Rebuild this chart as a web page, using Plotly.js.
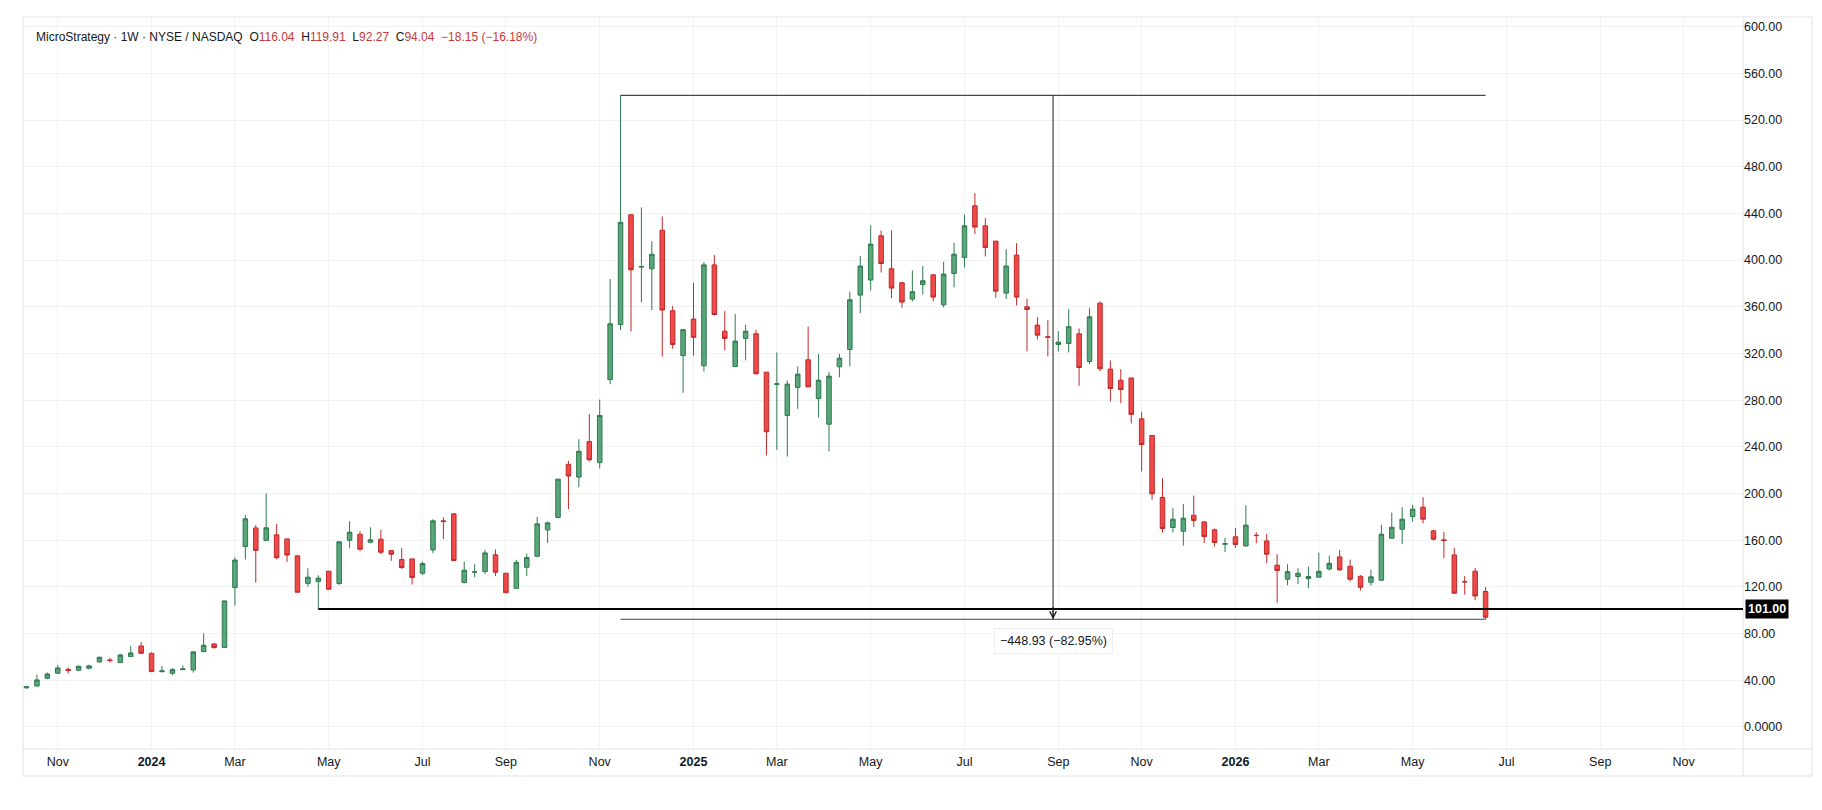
<!DOCTYPE html>
<html>
<head>
<meta charset="utf-8">
<script src="https://cdn.plot.ly/plotly-3.0.1.min.js"></script>
<style>
html,body{margin:0;padding:0;background:#ffffff;}
#chart{width:1822px;height:810px;}
</style>
</head>
<body>
<div id="chart"></div>
<script>
// ---- data (weekly bars, first bar = week of 2023-10-16) ----
const firstWeek = '2023-10-16';
const openP = [33.5,35.1,41.7,46.0,49.4,48.6,50.3,55.7,57.4,55.1,60.3,69.4,63.1,47.4,46.0,49.1,48.9,64.6,71.1,68.0,
119.4,154.6,170.5,159.8,164.6,161.1,146.6,123.0,124.7,133.4,122.9,160.0,165.1,158.3,160.9,151.1,143.4,144.0,131.7,151.7,
176.6,182.6,123.7,132.6,133.1,147.5,131.7,118.8,136.8,146.2,168.8,179.5,225.0,214.1,244.5,226.5,297.6,344.8,438.9,394.0,
392.6,425.6,356.6,318.2,349.5,309.5,395.9,339.1,308.9,332.9,336.9,304.0,293.5,266.9,290.9,314.6,281.4,259.4,308.6,323.4,
370.0,382.9,420.9,392.6,380.6,366.6,379.1,387.4,361.7,388.6,402.3,446.6,429.4,416.3,371.7,404.3,360.0,344.3,334.3,327.7,
328.6,336.9,313.1,363.1,306.6,297.1,299.0,264.0,249.7,196.6,170.9,167.7,181.4,175.7,168.9,156.6,162.9,155.1,164.3,159.4,
138.6,126.6,128.9,127.1,128.3,135.4,145.7,137.7,129.1,124.0,125.7,161.7,169.4,180.3,188.3,168.0,160.3,147.4,124.6,133.4,
116.04];
const highP = [35.0,44.9,46.6,53.1,50.9,52.6,53.4,60.3,59.1,62.6,69.4,72.6,64.0,52.3,50.3,52.6,65.1,80.3,71.7,108.0,
145.4,181.7,173.0,200.0,174.0,161.1,147.4,136.0,130.0,133.4,158.6,176.3,167.7,171.1,168.9,151.7,153.4,144.0,141.7,178.0,
179.7,183.1,141.7,139.4,151.7,152.0,131.7,143.2,148.5,180.0,176.0,212.6,228.0,246.5,268.1,280.5,383.7,541.2,438.9,445.1,
416.2,437.4,360.7,340.4,380.5,398.4,404.3,356.3,353.7,344.6,340.3,304.0,320.9,296.9,308.9,343.1,319.4,304.3,319.7,372.9,
403.7,429.7,425.4,425.4,381.4,391.1,394.9,387.4,398.6,414.9,438.9,457.4,436.0,416.3,409.4,414.6,366.9,351.1,348.6,339.1,
358.0,341.4,359.1,364.6,314.0,306.6,299.0,270.0,249.7,213.1,187.4,190.9,198.3,176.3,170.0,162.0,170.6,190.0,166.8,165.4,
148.0,139.4,136.0,137.4,149.4,146.8,151.7,143.4,130.0,134.6,173.1,183.7,188.3,190.3,196.9,168.9,167.1,153.4,129.4,136.3,
119.91];
const lowP = [33.0,34.6,40.9,45.4,45.7,48.3,49.4,55.1,55.1,54.9,60.0,62.6,47.1,46.6,44.3,49.1,46.6,64.0,67.1,68.0,
103.8,143.4,123.7,159.8,143.7,141.3,115.4,120.3,101.0,118.0,121.4,153.1,150.6,157.4,148.0,142.3,135.4,122.0,130.3,148.9,
160.9,142.6,123.1,128.3,131.1,129.2,115.0,118.7,129.2,145.7,157.7,179.5,186.7,205.3,227.4,221.5,293.7,340.1,338.9,363.7,
357.2,317.3,324.1,286.4,318.1,304.6,352.6,322.6,308.9,314.0,302.0,232.6,237.4,231.7,272.6,291.4,265.1,236.0,299.7,308.9,
354.6,374.0,389.4,367.4,359.1,364.6,370.6,364.6,359.5,376.6,393.7,422.3,403.1,367.7,366.6,361.1,321.7,332.0,317.4,321.7,
320.9,292.3,310.9,304.6,278.9,277.4,260.0,218.9,194.6,166.6,166.6,155.4,171.4,157.4,154.6,149.7,153.4,154.6,157.4,140.3,
106.6,121.4,122.3,118.9,128.3,134.0,133.7,124.6,116.9,121.1,125.7,161.7,156.6,176.0,174.6,159.7,144.6,114.6,113.4,108.6,
92.27];
const closeP = [34.5,40.3,45.4,50.6,48.3,52.0,52.3,59.7,56.9,61.7,63.4,63.1,47.4,48.0,49.1,49.7,64.3,70.0,68.0,108.0,
143.0,178.3,151.3,170.6,145.0,147.3,115.4,128.3,127.5,118.0,158.6,166.9,152.3,160.3,149.7,148.0,136.6,128.0,140.0,176.6,
176.0,142.6,134.3,132.9,149.1,132.6,115.0,141.0,145.1,174.0,174.9,212.3,215.0,236.2,228.9,266.9,345.4,432.4,391.7,394.5,
405.0,357.2,327.7,340.4,333.9,395.9,353.4,332.9,330.6,339.1,302.6,252.9,294.0,293.7,302.3,291.4,297.1,300.6,316.0,366.0,
394.9,413.7,397.1,376.0,364.0,372.9,382.3,368.3,388.0,405.1,429.4,428.3,410.9,373.4,394.9,368.3,357.7,335.7,334.0,329.7,
342.9,308.0,351.4,306.9,290.0,289.1,267.8,242.0,199.7,170.0,178.0,178.9,176.9,163.1,158.0,157.0,156.3,172.9,164.0,148.0,
134.0,133.1,131.7,128.9,133.3,140.2,134.6,126.6,119.7,128.6,165.1,171.1,178.0,186.6,178.0,160.9,159.7,114.6,124.3,112.19,
94.04];

const xTickDates = ['2023-11-06','2024-01-08','2024-03-04','2024-05-06','2024-07-08','2024-09-02','2024-11-04',
'2025-01-06','2025-03-03','2025-05-05','2025-07-07','2025-09-08','2025-11-03','2026-01-05','2026-03-02','2026-05-04',
'2026-07-06','2026-09-07','2026-11-02'];
const xTickLabels = ['Nov','<b>2024</b>','Mar','May','Jul','Sep','Nov','<b>2025</b>','Mar','May','Jul','Sep','Nov',
'<b>2026</b>','Mar','May','Jul','Sep','Nov'];
const yTickVals = [0,40,80,120,160,200,240,280,320,360,400,440,480,520,560,600];
const yTickLabels = ['0.0000','40.00','80.00','120.00','160.00','200.00','240.00','280.00','320.00','360.00',
'400.00','440.00','480.00','520.00','560.00','600.00'];

const headerName = 'MicroStrategy · 1W · NYSE / NASDAQ';
const lastBar = {o:'116.04', h:'119.91', l:'92.27', c:'94.04', chg:'−18.15 (−16.18%)'};
const levelLine = 101.00;
const levelLabel = '101.00';
const levelFromIndex = 28;
const measureFrom = 57, measureTo = 140;
const measureTop = 541.20, measureBottom = 92.27;
const measureLabel = '−448.93 (−82.95%)';

// ---- build ----
const DAY = 86400000;
const t0 = Date.parse(firstWeek + 'T00:00:00Z');
const fmt = ms => new Date(ms).toISOString().replace('T',' ').slice(0,19);
const dates = openP.map((_, i) => fmt(t0 + i * 7 * DAY));
const xStart = fmt(t0 - 2.35 * DAY);
const xEnd = fmt(t0 + 164.7 * 7 * DAY);
const toMs = s => Date.parse(s.replace(' ','T') + 'Z');
const midDate = fmt((toMs(dates[measureFrom]) + toMs(dates[measureTo])) / 2);

const UP = '#58a679', UPL = '#2f7a4f', DN = '#ef4a4a', DNL = '#c02a2a';
const TXT = '#131722', RED = '#c8383a', GRID = '#f0f2f6', BORDER = '#e0e3eb';

const trace = {
  type: 'candlestick', x: dates, open: openP, high: highP, low: lowP, close: closeP,
  increasing: {line: {color: UPL, width: 1}, fillcolor: UP},
  decreasing: {line: {color: DNL, width: 1}, fillcolor: DN},
  whiskerwidth: 0, hoverinfo: 'skip', showlegend: false
};

const sp = '\u00a0\u00a0';
const red = s => `<span style="color:${RED}">${s}</span>`;
const header = `${headerName}${sp}O${red(lastBar.o)}${sp}H${red(lastBar.h)}${sp}L${red(lastBar.l)}${sp}C${red(lastBar.c)}${sp}${red(lastBar.chg)}`;

const layout = {
  width: 1822, height: 810,
  margin: {l: 23, r: 79, t: 17, b: 61, pad: 0},
  paper_bgcolor: '#ffffff', plot_bgcolor: '#ffffff',
  font: {family: 'Liberation Sans, Arial, sans-serif', color: TXT, size: 12},
  boxgap: 0.38,
  showlegend: false,
  xaxis: {
    type: 'date', range: [xStart, xEnd], rangeslider: {visible: false},
    tickmode: 'array', tickvals: xTickDates, ticktext: xTickLabels,
    showgrid: true, gridcolor: GRID, gridwidth: 1, zeroline: false, showline: false,
    ticks: '', ticklabelstandoff: 3, tickfont: {size: 12.5, color: TXT}, fixedrange: true
  },
  yaxis: {
    side: 'right', range: [-18.9, 608.3],
    tickmode: 'array', tickvals: yTickVals, ticktext: yTickLabels,
    showgrid: true, gridcolor: GRID, gridwidth: 1, zeroline: false, showline: false,
    ticks: '', tickfont: {size: 12.5, color: TXT}, fixedrange: true
  },
  shapes: [
    {type: 'rect', xref: 'paper', yref: 'paper', x0: 0, x1: 1.0401, y0: -0.0369, y1: 1, line: {color: BORDER, width: 1}, layer: 'below'},
    {type: 'line', xref: 'paper', yref: 'paper', x0: 1, x1: 1, y0: -0.0369, y1: 1, line: {color: BORDER, width: 1}},
    {type: 'line', xref: 'paper', yref: 'paper', x0: 0, x1: 1.0401, y0: 0, y1: 0, line: {color: BORDER, width: 1}},
    {type: 'line', xref: 'x', yref: 'y', x0: dates[levelFromIndex], x1: xEnd, y0: levelLine, y1: levelLine, line: {color: '#000000', width: 2}},
    {type: 'line', xref: 'x', yref: 'y', x0: dates[measureFrom], x1: dates[measureTo], y0: measureTop, y1: measureTop, line: {color: '#1a1a1a', width: 1}},
    {type: 'line', xref: 'x', yref: 'y', x0: dates[measureFrom], x1: dates[measureTo], y0: measureBottom, y1: measureBottom, line: {color: '#444444', width: 1}},
    {type: 'line', xref: 'x', yref: 'y', x0: midDate, x1: midDate, y0: measureTop, y1: measureBottom, line: {color: '#1a1a1a', width: 1}}
  ],
  annotations: [
    {xref: 'paper', yref: 'paper', x: 0, y: 1, xanchor: 'left', yanchor: 'middle', xshift: 11, yshift: -20,
     text: header, showarrow: false, font: {size: 12, color: TXT}},
    {xref: 'x', yref: 'y', x: midDate, y: measureBottom, ax: 0, ay: -14, axref: 'pixel', ayref: 'pixel',
     showarrow: true, arrowhead: 5, arrowsize: 1.3, arrowwidth: 1, arrowcolor: '#1a1a1a', text: ''},
    {xref: 'x', yref: 'y', x: midDate, y: measureBottom, yanchor: 'middle', yshift: -22, showarrow: false,
     text: measureLabel, bgcolor: '#ffffff', bordercolor: '#eceef2', borderwidth: 1, borderpad: 5,
     font: {size: 12.5, color: TXT}},
    {xref: 'paper', yref: 'y', x: 1, y: levelLine, xanchor: 'left', yanchor: 'middle', xshift: 2, showarrow: false,
     text: '<b>' + levelLabel + '</b>', bgcolor: '#000000', borderpad: 2, font: {size: 12.5, color: '#ffffff'}}
  ]
};

Plotly.newPlot('chart', [trace], layout, {displayModeBar: false, staticPlot: true});
</script>
</body>
</html>
